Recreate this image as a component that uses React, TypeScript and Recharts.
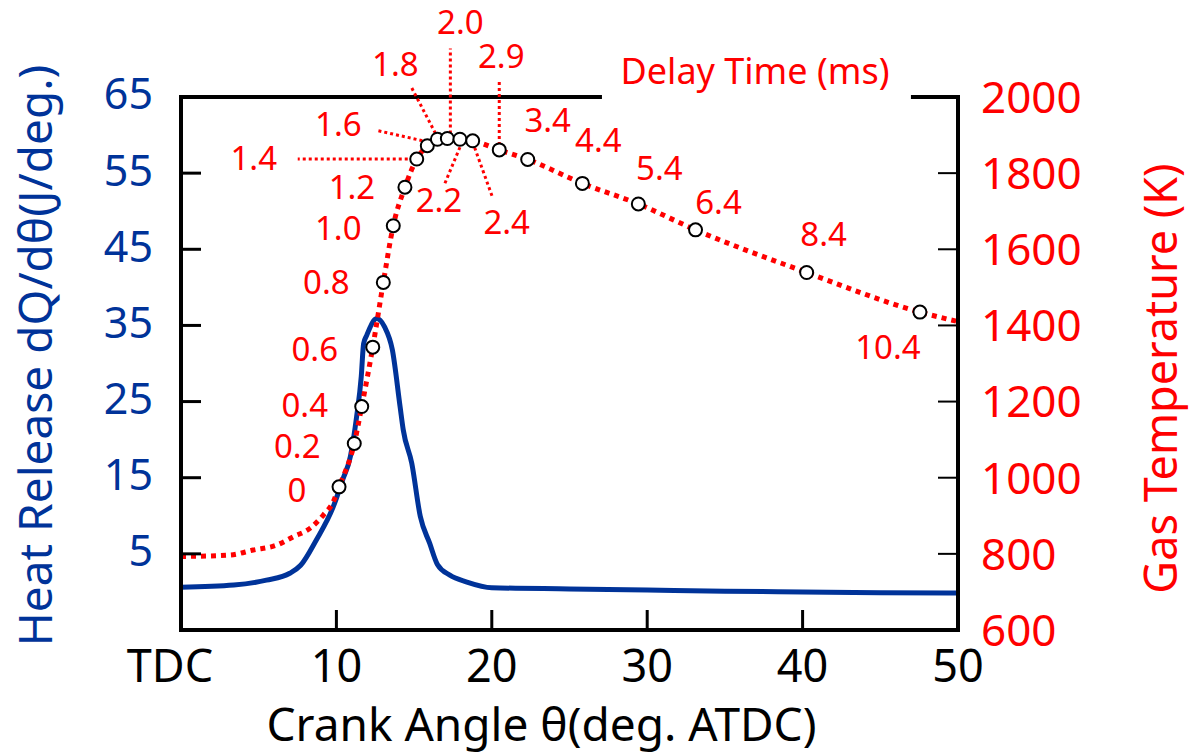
import React from "react";
import { ComposedChart, Line, XAxis, YAxis, ReferenceLine, Label } from "recharts";

// heat release rate (blue, left axis)
const hrAngle = [0, 3.4, 5.5, 7.0, 7.7, 8.7, 9.8, 10.4, 10.9, 11.3, 11.6, 11.75, 11.95, 12.6, 13.1, 13.6, 14.1, 14.3, 14.85, 15.4, 16.0, 16.5, 17.3, 18.4, 20, 25, 30, 35, 40, 45, 50];
const heatRelease = [0.6, 0.9, 1.55, 2.45, 3.5, 6.8, 11.2, 14.7, 17.8, 23.0, 28.3, 32.6, 33.7, 35.9, 34.8, 31.8, 24.3, 21.3, 16.9, 9.9, 6.4, 3.6, 2.2, 1.3, 0.55, 0.4, 0.25, 0.1, 0.0, -0.1, -0.15];

// gas temperature (red, right axis) with delay-time markers
const tAngle = [0, 3.15, 4.65, 6.16, 7.23, 8.3, 9.16, 9.8, 10.17, 11.15, 11.63, 12.34, 13.02, 13.66, 14.41, 15.17, 15.85, 16.5, 17.14, 17.95, 18.77, 20.48, 22.31, 25.83, 29.43, 33.11, 40.26, 47.55, 50];
const gasTemp = [793, 797, 810, 823, 845, 867, 902, 937, 976, 1090, 1187, 1343, 1513, 1662, 1763, 1837, 1872, 1889, 1891, 1889, 1885, 1861, 1836, 1773, 1719, 1651, 1539, 1435, 1410];
const delayTime = [null, null, null, null, null, null, null, null, "0", "0.2", "0.4", "0.6", "0.8", "1.0", "1.2", "1.4", "1.6", "1.8", "2.0", "2.2", "2.4", "2.9", "3.4", "4.4", "5.4", "6.4", "8.4", "10.4", null];

const xTicks = [0, 10, 20, 30, 40, 50];
const hrTicks = [5, 15, 25, 35, 45, 55, 65];
const tempTicks = [600, 800, 1000, 1200, 1400, 1600, 1800, 2000];

const BLUE = "#003399";
const RED = "#ff0000";
const FONT = "'Noto Sans', sans-serif";
const X_GAP = 20;
const L_GAP = 28;
const R_GAP = 23;
const TICK_LEN = 20;

// where each delay label sits relative to its circle, plus optional leader line
const labelPlace: Record<string, { dx: number; dy: number; leader?: number[] }> = {
  "0": { dx: -42, dy: 3 },
  "0.2": { dx: -57, dy: 3 },
  "0.4": { dx: -57, dy: -1 },
  "0.6": { dx: -58, dy: 2 },
  "0.8": { dx: -57, dy: 0 },
  "1.0": { dx: -55, dy: 2 },
  "1.2": { dx: -53, dy: 0 },
  "1.4": { dx: -163, dy: -1, leader: [-9, 0, -119, 0] },
  "1.6": { dx: -89, dy: -22, leader: [-5, -5, -49, -15] },
  "1.8": { dx: -42, dy: -75, leader: [-2, -6, -26, -52] },
  "2.0": { dx: 13, dy: -116, leader: [3, -5, 3, -90] },
  "2.2": { dx: -21, dy: 61, leader: [0, 8, -15, 44] },
  "2.4": { dx: 34, dy: 81, leader: [2, 7, 20, 57] },
  "2.9": { dx: 2, dy: -94, leader: [0, -5, 0, -71] },
  "3.4": { dx: 20, dy: -39 },
  "4.4": { dx: 16, dy: -43 },
  "5.4": { dx: 21, dy: -36 },
  "6.4": { dx: 23, dy: -28 },
  "8.4": { dx: 17, dy: -38 },
  "10.4": { dx: -32, dy: 35 },
};

const hrData = hrAngle.map((a, i) => ({ a, q: heatRelease[i] }));
const tempData = tAngle.map((a, i) => ({ a, t: gasTemp[i], delay: delayTime[i] }));

const XTick = (props: any) => {
  const { x, y, payload } = props;
  const v = payload.value;
  const axisY = y - X_GAP;
  return (
    <g>
      {v > 0 && v < 50 && (
        <line x1={x} x2={x} y1={axisY} y2={axisY - TICK_LEN} stroke="#000" strokeWidth={3} />
      )}
      <text x={v === 0 ? x - 11 : x} y={y} dy="0.71em" textAnchor="middle" fontSize={45} fontFamily={FONT} fill="#000">
        {v === 0 ? "TDC" : v}
      </text>
    </g>
  );
};

const LeftTick = (props: any) => {
  const { x, y, payload } = props;
  return (
    <g>
      <line x1={x + L_GAP} x2={x + L_GAP + TICK_LEN} y1={y} y2={y} stroke="#000" strokeWidth={3} />
      <text x={x} y={y - 3} dy="0.36em" textAnchor="end" fontSize={43} fontFamily={FONT} fill={BLUE}>
        {payload.value}
      </text>
    </g>
  );
};

const RightTick = (props: any) => {
  const { x, y, payload } = props;
  return (
    <g>
      <line x1={x - R_GAP} x2={x - R_GAP - TICK_LEN} y1={y} y2={y} stroke="#000" strokeWidth={2} />
      <text x={x} y={y} dy="0.36em" textAnchor="start" fontSize={44} fontFamily={FONT} fill={RED}>
        {payload.value}
      </text>
    </g>
  );
};

const DelayDot = (props: any) => {
  const { cx, cy, payload, index } = props;
  if (!payload || payload.delay == null) return <g key={`d-${index}`} />;
  const p = labelPlace[payload.delay] || { dx: 0, dy: -30 };
  return (
    <g key={`d-${index}`}>
      {p.leader && (
        <line
          x1={cx + p.leader[0]}
          y1={cy + p.leader[1]}
          x2={cx + p.leader[2]}
          y2={cy + p.leader[3]}
          stroke={RED}
          strokeWidth={3}
          strokeDasharray="3 3"
        />
      )}
      <circle cx={cx} cy={cy} r={6.5} fill="#fff" stroke="#000" strokeWidth={2} />
      <text x={cx + p.dx} y={cy + p.dy} dy="0.36em" textAnchor="middle" fontSize={33} fontFamily={FONT} fill={RED}>
        {payload.delay}
      </text>
    </g>
  );
};

export default function App() {
  return (
    <div style={{ position: "absolute", left: 0, top: 0, background: "#fff" }}>
      <ComposedChart width={1193} height={755} margin={{ top: 97, right: 0, bottom: 0, left: 0 }}>
        <XAxis
          type="number"
          dataKey="a"
          domain={[0, 50]}
          ticks={xTicks}
          interval={0}
          height={125}
          tickSize={0}
          tickMargin={X_GAP}
          tickLine={false}
          axisLine={{ stroke: "#000", strokeWidth: 4, strokeLinecap: "square" }}
          tick={<XTick />}
        >
          <Label
            content={(p: any) => (
              <text
                x={p.viewBox.x + p.viewBox.width / 2 - 28}
                y={p.viewBox.y + 111}
                textAnchor="middle"
                fontSize={46}
                fontFamily={FONT}
                fill="#000"
              >
                Crank Angle θ(deg. ATDC)
              </text>
            )}
          />
        </XAxis>
        <YAxis
          yAxisId="hr"
          type="number"
          domain={[-5, 65]}
          ticks={hrTicks}
          interval={0}
          width={181}
          tickSize={0}
          tickMargin={L_GAP}
          tickLine={false}
          axisLine={{ stroke: "#000", strokeWidth: 4, strokeLinecap: "square" }}
          tick={<LeftTick />}
        >
          <Label
            content={(p: any) => {
              const cx = 35;
              const cy = p.viewBox.y + p.viewBox.height / 2 - 8;
              return (
                <text
                  x={cx}
                  y={cy}
                  dy="0.36em"
                  textAnchor="middle"
                  fontSize={46}
                  fontFamily={FONT}
                  fill={BLUE}
                  transform={`rotate(-90, ${cx}, ${cy})`}
                >
                  Heat Release dQ/dθ(J/deg.)
                </text>
              );
            }}
          />
        </YAxis>
        <YAxis
          yAxisId="temp"
          orientation="right"
          type="number"
          domain={[600, 2000]}
          ticks={tempTicks}
          interval={0}
          width={235}
          tickSize={0}
          tickMargin={R_GAP}
          tickLine={false}
          axisLine={{ stroke: "#000", strokeWidth: 4, strokeLinecap: "square" }}
          tick={<RightTick />}
        >
          <Label
            content={(p: any) => {
              const cx = 1161;
              const cy = p.viewBox.y + p.viewBox.height / 2 + 15;
              return (
                <text
                  x={cx}
                  y={cy}
                  dy="0.36em"
                  textAnchor="middle"
                  fontSize={45}
                  fontFamily={FONT}
                  fill={RED}
                  transform={`rotate(-90, ${cx}, ${cy})`}
                >
                  Gas Temperature (K)
                </text>
              );
            }}
          />
        </YAxis>

        <ReferenceLine
          yAxisId="hr"
          segment={[{ x: 0, y: 65 }, { x: 26.96, y: 65 }]}
          stroke="#000"
          strokeWidth={4}
          strokeLinecap="square"
          ifOverflow="visible"
        />
        <ReferenceLine
          yAxisId="hr"
          segment={[{ x: 47.1, y: 65 }, { x: 50, y: 65 }]}
          stroke="#000"
          strokeWidth={4}
          strokeLinecap="square"
          ifOverflow="visible"
        />

        <Line
          yAxisId="hr"
          data={hrData}
          dataKey="q"
          type="monotone"
          stroke={BLUE}
          strokeWidth={5}
          dot={false}
          activeDot={false}
          isAnimationActive={false}
        />
        <Line
          yAxisId="temp"
          data={tempData}
          dataKey="t"
          type="monotone"
          stroke={RED}
          strokeWidth={5}
          strokeDasharray="5 5"
          dot={DelayDot}
          activeDot={false}
          isAnimationActive={false}
        />

        <text x={755} y={71} dy="0.36em" textAnchor="middle" fontSize={36} fontFamily={FONT} fill={RED}>
          Delay Time (ms)
        </text>
      </ComposedChart>
    </div>
  );
}
